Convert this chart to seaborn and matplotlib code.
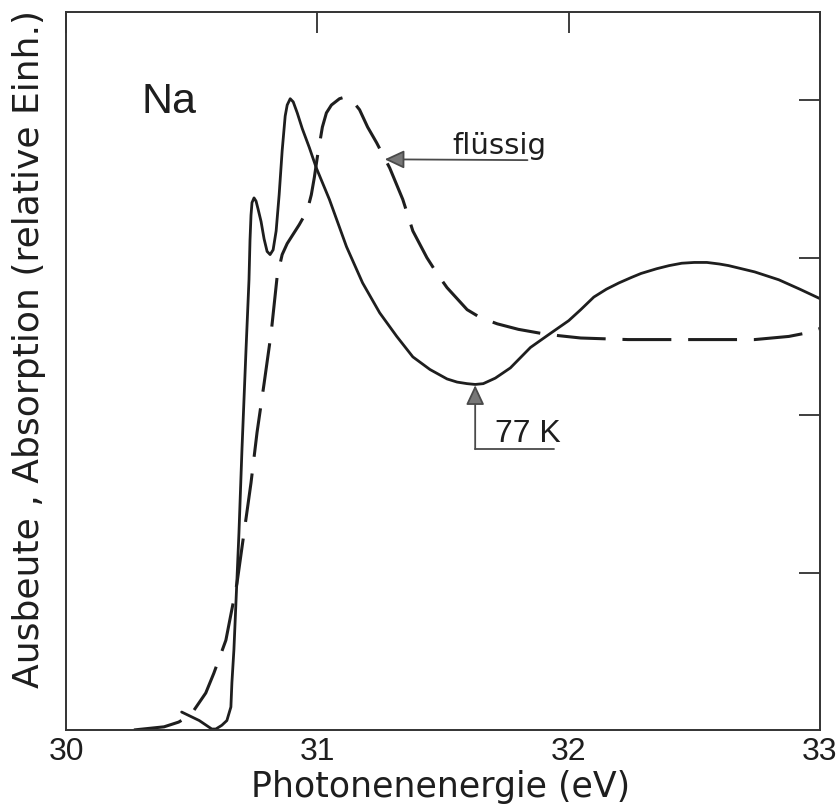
import matplotlib
matplotlib.use("Agg")
import matplotlib.pyplot as plt
import seaborn as sns
import pandas as pd

# Photon energy (eV) and relative yield for solid Na at 77 K
energy_77k = [30.46, 30.53, 30.58, 30.596, 30.62, 30.64, 30.656, 30.66, 30.668, 30.688,
              30.70, 30.716, 30.728, 30.732, 30.736, 30.74, 30.748, 30.756, 30.764,
              30.776, 30.788, 30.80, 30.812, 30.824, 30.836, 30.848, 30.86, 30.872,
              30.88, 30.892, 30.904, 30.92, 30.94, 30.968, 30.996, 31.048, 31.116,
              31.18, 31.248, 31.316, 31.38, 31.448, 31.516, 31.556, 31.596, 31.628,
              31.66, 31.708, 31.768, 31.848, 31.928, 32.0, 32.048, 32.10, 32.15,
              32.20, 32.25, 32.288, 32.35, 32.40, 32.45, 32.50, 32.55, 32.60, 32.636,
              32.74, 32.836, 32.92, 33.0]
yield_77k = [0.114, 0.06, 0.006, 0.006, 0.03, 0.06, 0.146, 0.30, 0.51, 1.25,
             1.78, 2.41, 2.86, 3.11, 3.27, 3.35, 3.38, 3.36, 3.31,
             3.23, 3.12, 3.04, 3.02, 3.05, 3.17, 3.40, 3.68, 3.90,
             3.97, 4.01, 3.99, 3.92, 3.82, 3.70, 3.57, 3.37, 3.07,
             2.84, 2.65, 2.50, 2.37, 2.29, 2.23, 2.21, 2.20, 2.195,
             2.20, 2.235, 2.30, 2.43, 2.52, 2.60, 2.67, 2.75, 2.80,
             2.84, 2.875, 2.90, 2.93, 2.95, 2.965, 2.97, 2.97, 2.96, 2.95,
             2.91, 2.86, 2.80, 2.74]

# Photon energy (eV) and relative yield for liquid Na
energy_liquid = [30.27, 30.39, 30.448, 30.496, 30.556, 30.588, 30.636, 30.68, 30.708,
                 30.736, 30.76, 30.788, 30.816, 30.84, 30.86, 30.88, 30.896, 30.928,
                 30.96, 30.976, 30.988, 31.0, 31.02, 31.036, 31.056, 31.088, 31.108,
                 31.128, 31.148, 31.168, 31.2, 31.236, 31.288, 31.34, 31.38, 31.436,
                 31.476, 31.516, 31.556, 31.596, 31.648, 31.716, 31.80, 31.888, 31.96,
                 32.048, 32.236, 32.50, 32.74, 32.876, 32.94, 33.0]
yield_liquid = [0.0, 0.02, 0.05, 0.095, 0.235, 0.36, 0.57, 0.93, 1.25,
                1.57, 1.89, 2.20, 2.52, 2.88, 3.02, 3.09, 3.13, 3.21,
                3.30, 3.40, 3.51, 3.64, 3.83, 3.92, 3.97, 4.01, 4.02,
                4.005, 3.98, 3.94, 3.83, 3.73, 3.57, 3.37, 3.17, 3.00,
                2.90, 2.81, 2.74, 2.67, 2.62, 2.58, 2.545, 2.52, 2.505,
                2.49, 2.48, 2.48, 2.48, 2.50, 2.52, 2.55]

x_ticks = [30, 31, 32, 33]
x_tick_labels = ["30", "31", "32", "33"]
y_ticks = [1, 2, 3, 4]

sns.set_theme(style="white")
plt.rcParams["font.family"] = ["Liberation Sans", "DejaVu Sans"]

ink = "#1e1e1e"
lead = "#4a4a4a"
fig = plt.figure(figsize=(8.38, 8.10), dpi=100)
ax = fig.add_axes([0.0788, 0.0988, 0.8997, 0.8862])

df77 = pd.DataFrame({"E": energy_77k, "I": yield_77k})
dfl = pd.DataFrame({"E": energy_liquid, "I": yield_liquid})

sns.lineplot(data=df77, x="E", y="I", ax=ax, color=ink, lw=2.0, sort=False, estimator=None)
sns.lineplot(data=dfl, x="E", y="I", ax=ax, color=ink, lw=2.2, sort=False, estimator=None)
ax.lines[1].set_dashes([16, 5.5])
for ln in ax.lines:
    ln.set_solid_joinstyle("round")
    ln.set_dash_capstyle("butt")

ax.set_xlim(30, 33)
ax.set_ylim(0, 4.56)

ax.set_xticks(x_ticks)
ax.set_xticklabels(x_tick_labels)
ax.set_yticks(y_ticks)
ax.set_yticklabels([])
ax.tick_params(axis="both", direction="in", length=15, width=1.2, color=ink,
               top=True, right=True, labelsize=23, labelcolor=ink, pad=5)
for s in ax.spines.values():
    s.set_color("#333333")
    s.set_linewidth(1.4)

ax.set_xlabel("Photonenenergie (eV)", fontsize=25, color=ink, family="DejaVu Sans")
ax.xaxis.label.set_va("baseline")
ax.xaxis.set_label_coords(0.497, -0.093)
ax.set_ylabel("Ausbeute , Absorption (relative Einh.)", fontsize=26, color=ink,
              family="DejaVu Sans")
ax.yaxis.set_label_coords(-0.027, 0.531)

ax.text(30.3, 3.92, "Na", fontsize=31, color=ink, ha="left", va="baseline")

arrow_kw = dict(arrowstyle="-|>,head_length=0.6,head_width=0.28", facecolor="#777777",
                edgecolor=lead, lw=1.3, mutation_scale=20, shrinkA=0, shrinkB=0)

# liquid-phase label with leader
ax.annotate("", xy=(31.268, 3.625), xytext=(31.836, 3.62), arrowprops=arrow_kw)
ax.text(31.536, 3.66, "flüssig", fontsize=21, color=ink, ha="left", va="baseline",
        family="DejaVu Sans")

# 77 K label with elbow leader
ax.plot([31.628, 31.94], [1.784, 1.784], color=lead, lw=1.3)
ax.annotate("", xy=(31.628, 2.19), xytext=(31.628, 1.784), arrowprops=arrow_kw)
ax.text(31.708, 1.83, "77 K", fontsize=23, color=ink, ha="left", va="baseline")

fig.savefig("out.png", dpi=100, facecolor="white")
